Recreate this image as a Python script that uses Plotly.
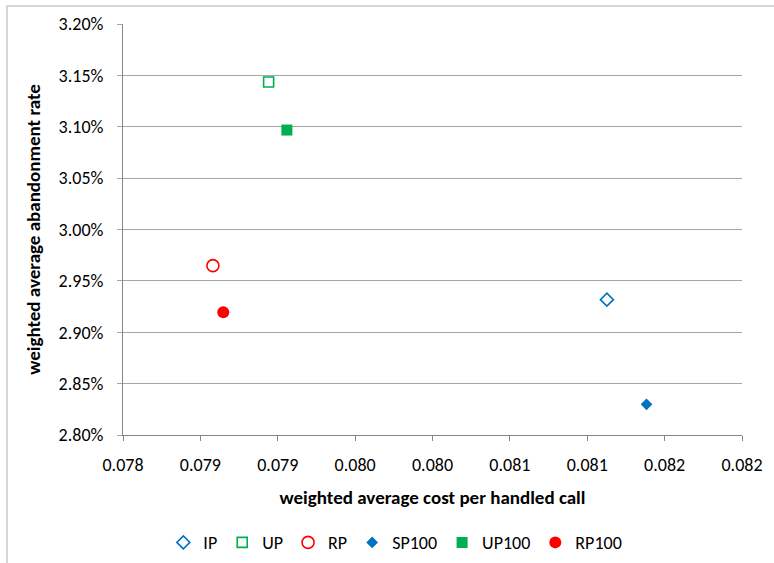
import plotly.graph_objects as go

# Scenario results: cost per handled call vs. abandonment rate
series_names = ["IP", "UP", "RP", "SP100", "UP100", "RP100"]
cost_per_call = [0.081127, 0.078941, 0.078581, 0.081383, 0.079059, 0.078648]
abandon_rate = [0.029317, 0.031436, 0.029648, 0.028299, 0.030968, 0.029194]

marker_symbols = ["diamond-open", "square-open", "circle-open", "diamond", "square", "circle"]
marker_colors = ["#0070C0", "#00B050", "#FF0000", "#0070C0", "#00B050", "#FF0000"]
marker_sizes = [10, 10, 12, 9, 11, 12]

x_tick_vals = [0.0780, 0.0785, 0.0790, 0.0795, 0.0800, 0.0805, 0.0810, 0.0815, 0.0820]
x_tick_text = ["0.078", "0.079", "0.079", "0.080", "0.080", "0.081", "0.081", "0.082", "0.082"]
y_tick_vals = [0.0280, 0.0285, 0.0290, 0.0295, 0.0300, 0.0305, 0.0310, 0.0315, 0.0320]

FONT = "Carlito, Calibri, Lato, sans-serif"

fig = go.Figure()
for name, x, y, sym, col, sz in zip(series_names, cost_per_call, abandon_rate,
                                    marker_symbols, marker_colors, marker_sizes):
    fig.add_trace(go.Scatter(
        x=[x], y=[y], mode="markers", name=name,
        marker=dict(symbol=sym, color=col, size=sz,
                    line=dict(color=col, width=1.6 if "open" in sym else 0)),
    ))

W, H = 774, 563
L, R, T, B = 123, 32, 24, 128
pw, ph = W - L - R, H - T - B

fig.update_layout(
    width=W, height=H,
    margin=dict(l=L, r=R, t=T, b=B, autoexpand=False),
    paper_bgcolor="white", plot_bgcolor="white",
    font=dict(family=FONT, size=13, color="#000000"),
    showlegend=True,
    legend=dict(orientation="h", x=0.44, xanchor="center", y=-0.262, yanchor="middle",
                font=dict(family=FONT, size=18), itemwidth=30, tracegroupgap=0,
                bgcolor="rgba(0,0,0,0)"),
    xaxis=dict(
        range=[0.0780, 0.0820], tickvals=x_tick_vals, ticktext=x_tick_text,
        showgrid=False, zeroline=False, automargin=False,
        showline=True, linecolor="#868686", linewidth=1,
        ticks="outside", ticklen=5, tickcolor="#868686",
        tickfont=dict(family=FONT, size=18), ticklabelstandoff=8,
        title=dict(text="<b>weighted average cost per handled call</b>",
                   font=dict(family=FONT, size=19), standoff=16),
    ),
    yaxis=dict(
        range=[0.0280, 0.0320], tickvals=y_tick_vals, tickformat=".2%",
        showgrid=True, gridcolor="#A6A6A6", gridwidth=1, zeroline=False, automargin=False,
        showline=True, linecolor="#868686", linewidth=1,
        ticks="outside", ticklen=5, tickcolor="#A6A6A6",
        tickfont=dict(family=FONT, size=18), ticklabelstandoff=10,
        title=dict(text="<b>weighted average abandonment rate</b>",
                   font=dict(family=FONT, size=19), standoff=12),
    ),
)

# Chart frame (left and top edges visible)
fig.add_shape(type="rect", xref="paper", yref="paper",
              x0=(7 - L) / pw, x1=(W + 20 - L) / pw,
              y0=-(H + 20 - T - ph) / ph, y1=(T + ph - 6) / ph,
              line=dict(color="#C8C8C8", width=1.5), layer="below")

fig.write_html("out.html")
